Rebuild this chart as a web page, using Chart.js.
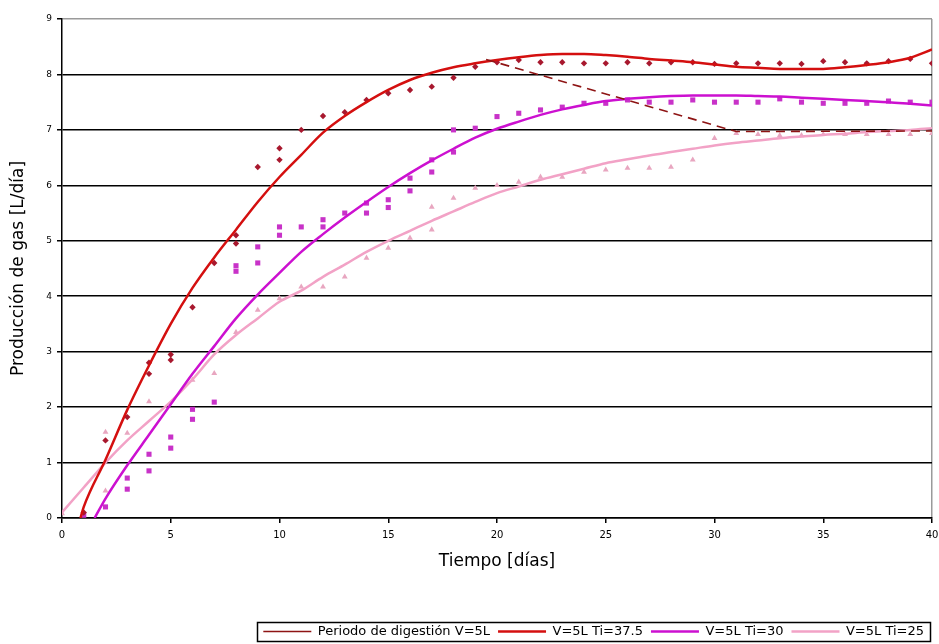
<!DOCTYPE html>
<html>
<head>
<meta charset="utf-8">
<script src="https://cdn.jsdelivr.net/npm/chart.js@4.4.1/dist/chart.umd.min.js"></script>
<style>
html,body{margin:0;padding:0;background:#fff;}
#wrap{width:939px;height:644px;}
</style>
</head>
<body>
<div id="wrap"><canvas id="c" width="939" height="644"></canvas></div>
<script>
// ---- data ----
const xTicks = [0,5,10,15,20,25,30,35,40];
const yTicks = [0,1,2,3,4,5,6,7,8,9];

const digestX = [19.5, 31, 40];
const digestY = [8.27, 6.97, 6.98];

const redFitX = [0.85,1,2,3,4,5,6,7,8,9,10,11,12,13,14,15,16,17,18,19,20,21,22,23,24,25,26,27,28,29,30,31,32,33,34,35,36,37,38,39,40];
const redFitY = [0,0.2,1.05,1.95,2.75,3.5,4.15,4.7,5.2,5.7,6.15,6.55,6.95,7.25,7.5,7.72,7.9,8.03,8.13,8.2,8.26,8.31,8.35,8.37,8.37,8.35,8.32,8.28,8.25,8.22,8.18,8.14,8.12,8.1,8.1,8.1,8.13,8.17,8.22,8.3,8.45];

const magFitX = [1.5,2,3,4,5,6,7,8,9,10,11,12,13,14,15,16,17,18,19,20,21,22,23,24,25,26,27,28,29,30,31,32,33,34,35,36,37,38,39,40];
const magFitY = [0,0.35,0.95,1.5,2.05,2.6,3.1,3.6,4.03,4.42,4.8,5.12,5.42,5.7,5.97,6.22,6.45,6.66,6.86,7.02,7.15,7.27,7.37,7.45,7.52,7.56,7.59,7.61,7.62,7.62,7.62,7.61,7.6,7.58,7.56,7.54,7.52,7.5,7.47,7.44];

const pinkFitX = [0,1,2,3,4,5,6,7,8,9,10,11,12,13,14,15,16,17,18,19,20,21,22,23,24,25,26,27,28,29,30,31,32,33,34,35,36,37,38,39,40];
const pinkFitY = [0.1,0.55,1.0,1.4,1.75,2.1,2.5,2.95,3.3,3.6,3.9,4.1,4.35,4.57,4.8,5.0,5.18,5.36,5.53,5.7,5.86,5.98,6.1,6.2,6.3,6.4,6.47,6.54,6.6,6.66,6.72,6.77,6.81,6.85,6.88,6.91,6.93,6.96,6.98,7.0,7.03];

const redObsX = [1,2,3,4,4,5,5,6,7,8,8,9,10,10,11,12,13,14,15,16,17,18,19,20,21,22,23,24,25,26,27,28,29,30,31,32,33,34,35,36,37,38,39,40];
const redObsY = [0.1,1.4,1.82,2.6,2.8,2.95,2.85,3.8,4.6,5.1,4.95,6.33,6.67,6.46,7.0,7.25,7.32,7.54,7.66,7.72,7.78,7.94,8.14,8.22,8.26,8.22,8.22,8.2,8.2,8.22,8.2,8.22,8.22,8.19,8.2,8.2,8.2,8.19,8.24,8.22,8.2,8.24,8.28,8.2];

const magObsX = [1,2,3,3,4,4,5,5,6,6,7,8,8,9,9,10,10,11,12,12,13,14,14,15,15,16,16,17,17,18,18,19,20,21,22,23,24,25,26,27,28,29,30,31,32,33,34,35,36,37,38,39,40];
const magObsY = [0.05,0.2,0.72,0.52,1.15,0.85,1.46,1.26,1.96,1.78,2.09,4.55,4.45,4.89,4.6,5.25,5.1,5.25,5.38,5.25,5.5,5.68,5.5,5.74,5.6,6.13,5.9,6.46,6.24,7.0,6.6,7.03,7.24,7.3,7.36,7.41,7.48,7.48,7.54,7.5,7.5,7.54,7.5,7.5,7.5,7.56,7.5,7.48,7.48,7.48,7.52,7.5,7.5];

const pinkObsX = [0,2,2,3,4,6,7,8,9,10,11,12,13,14,15,16,17,17,18,19,20,21,22,23,24,25,26,27,28,29,30,31,32,33,34,35,36,37,38,39,40];
const pinkObsY = [0.08,1.55,0.49,1.53,2.1,2.49,2.61,3.35,3.75,3.96,4.17,4.17,4.35,4.69,4.87,5.05,5.2,5.61,5.77,5.95,6.0,6.06,6.15,6.15,6.24,6.28,6.31,6.31,6.33,6.46,6.85,6.94,6.92,6.9,6.9,6.92,6.92,6.92,6.92,6.92,6.94];

const labels = ['Periodo de digestión V=5L','V=5L Ti=37.5','V=5L Ti=30','V=5L Ti=25'];

const pts = (xs, ys) => xs.map((x, i) => ({x: x, y: ys[i]}));

const FONT = "'DejaVu Sans', Verdana, sans-serif";
const PLOT_BOTTOM = 518;
const LEGEND_SHIFT = 4;

const legendFrame = {
  id: 'legendFrame',
  afterDraw(chart) {
    const lg = chart.legend;
    if (!lg || !lg.legendHitBoxes || !lg.legendHitBoxes.length) return;
    let l = Infinity, r = -Infinity, t = Infinity, b = -Infinity;
    lg.legendHitBoxes.forEach(h => {
      l = Math.min(l, h.left); r = Math.max(r, h.left + h.width);
      t = Math.min(t, h.top); b = Math.max(b, h.top + h.height);
    });
    const c = chart.ctx;
    c.save();
    c.strokeStyle = '#000';
    c.lineWidth = 1.5;
    c.strokeRect(Math.round(l - 6) + 0.5, Math.round(t - 3) + 0.5, Math.round(r - l + 12), Math.round(b - t + 6));
    c.restore();
  }
};

new Chart(document.getElementById('c'), {
  type: 'scatter',
  data: {
    datasets: [
      { type: 'line', label: labels[0], data: pts(digestX, digestY), borderColor: '#8e1414', borderWidth: 1.6, borderDash: [9, 6], pointRadius: 0, fill: false, tension: 0 },
      { type: 'line', label: labels[1], data: pts(redFitX, redFitY), borderColor: '#d40f0f', borderWidth: 2.5, pointRadius: 0, fill: false, cubicInterpolationMode: 'monotone' },
      { type: 'line', label: labels[2], data: pts(magFitX, magFitY), borderColor: '#cc10d0', borderWidth: 2.5, pointRadius: 0, fill: false, cubicInterpolationMode: 'monotone' },
      { type: 'line', label: labels[3], data: pts(pinkFitX, pinkFitY), borderColor: '#f2a2c6', borderWidth: 2.5, pointRadius: 0, fill: false, cubicInterpolationMode: 'monotone' },
      { label: '', data: pts(redObsX, redObsY), pointStyle: 'rectRot', pointRadius: 3.2, backgroundColor: '#a8182e', borderColor: '#a8182e', borderWidth: 0 },
      { label: '', data: pts(magObsX, magObsY), pointStyle: 'rect', pointRadius: 3.6, backgroundColor: '#c832c8', borderColor: '#c832c8', borderWidth: 0 },
      { label: '', data: pts(pinkObsX, pinkObsY), pointStyle: 'triangle', pointRadius: 3.4, backgroundColor: '#e8a6c0', borderColor: '#e8a6c0', borderWidth: 0 }
    ]
  },
  options: {
    responsive: false,
    animation: false,
    layout: { padding: { left: 0, right: 7, top: 19, bottom: -LEGEND_SHIFT } },
    plugins: {
      tooltip: { enabled: false },
      legend: {
        position: 'bottom',
        align: 'end',
        labels: {
          filter: item => item.text !== '',
          usePointStyle: true,
          pointStyle: 'line',
          pointStyleWidth: 48,
          boxHeight: 6,
          padding: 8,
          color: '#000',
          font: { family: FONT, size: 13 }
        }
      }
    },
    scales: {
      x: {
        type: 'linear',
        min: 0, max: 40,
        afterBuildTicks: s => { s.ticks = xTicks.map(v => ({value: v})); },
        afterFit: s => {
          s.height = s.chart.height + LEGEND_SHIFT - s.chart.legend.height - PLOT_BOTTOM;
          s.paddingRight = 0;
        },
        border: { display: true, color: '#000', width: 1.5 },
        grid: {
          color: c => (c.tick && c.tick.value === 40) ? '#9a9a9a' : 'rgba(0,0,0,0)',
          lineWidth: 1.5,
          drawTicks: true,
          tickLength: 5,
          tickColor: '#000'
        },
        ticks: { color: '#000', font: { family: FONT, size: 10 }, padding: 6, maxRotation: 0 },
        title: { display: true, text: 'Tiempo [días]', color: '#000', font: { family: FONT, size: 17 }, padding: { top: 6, bottom: 45 } }
      },
      y: {
        type: 'linear',
        min: 0, max: 9,
        afterBuildTicks: s => { s.ticks = yTicks.map(v => ({value: v})); },
        afterFit: s => { s.width = 62; },
        border: { display: true, color: '#000', width: 1.5 },
        grid: {
          color: c => (c.tick && c.tick.value === 9) ? '#9a9a9a' : '#000',
          lineWidth: 1.5,
          drawTicks: true,
          tickLength: 5,
          tickColor: '#000'
        },
        ticks: { color: '#000', font: { family: FONT, size: 9 }, padding: 5 },
        title: { display: true, text: 'Producción de gas [L/día]', color: '#000', font: { family: FONT, size: 17 }, padding: { top: 8, bottom: 6 } }
      }
    }
  },
  plugins: [legendFrame]
});
</script>
</body>
</html>
